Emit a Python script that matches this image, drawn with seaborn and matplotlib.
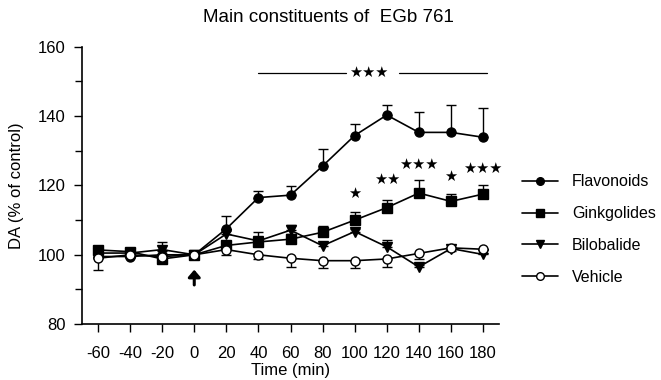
import seaborn as sns
import matplotlib.pyplot as plt
import pandas as pd
import numpy as np
from matplotlib.lines import Line2D

time = [-60, -40, -20, 0, 20, 40, 60, 80, 100, 120, 140, 160, 180]

flavonoids = [99.5, 99.5, 100.0, 100, 107.5, 116.5, 117.2, 125.6, 134.4, 140.3, 135.3, 135.3, 133.9]
ginkgolides = [101.4, 100.9, 98.8, 100, 102.7, 103.7, 104.5, 106.5, 110.0, 113.6, 117.8, 115.4, 117.5]
bilobalide = [100.5, 100.5, 101.5, 100, 106.0, 104.0, 107.1, 102.6, 106.7, 102.3, 96.5, 101.8, 100.1]
vehicle = [99.0, 100.0, 99.5, 100, 101.5, 100.0, 99.0, 98.3, 98.3, 98.8, 100.4, 102.0, 101.6]

# SEM (upper for treated groups, lower for vehicle)
flav_err = [1, 1, 1, 0, 3.6, 2, 2.7, 5, 3.4, 2.9, 6, 8, 8.5]
gink_err = [1, 0.5, 0.5, 0, 1, 2.9, 1.5, 1.8, 2.2, 2.1, 3.9, 2.1, 2.6]
bilo_err = [0.5, 0.5, 2.2, 0, 1, 1, 1.4, 0.8, 0.8, 1.9, 0.5, 0.5, 0.5]
veh_err = [3.5, 1, 2, 0, 1.5, 1.2, 2.5, 2, 2, 2.2, 1.5, 1, 1]

# significance marks
stars_x = [100, 120, 140, 160, 180]
stars_y = [117.7, 121.7, 126.1, 122.6, 125.0]
stars_txt = ['★', '★★', '★★★', '★', '★★★']

sns.set_style('ticks')
plt.rcParams['font.family'] = ['Liberation Sans', 'DejaVu Sans']
plt.rcParams['font.size'] = 12
plt.rcParams['axes.unicode_minus'] = False
plt.rcParams['text.color'] = 'black'
plt.rcParams['axes.labelcolor'] = 'black'
plt.rcParams['xtick.color'] = 'black'
plt.rcParams['ytick.color'] = 'black'
plt.rcParams['axes.edgecolor'] = 'black'

df = pd.DataFrame({
    'Time': time * 4,
    'DA': flavonoids + ginkgolides + bilobalide + vehicle,
    'group': ['Flavonoids'] * 13 + ['Ginkgolides'] * 13 + ['Bilobalide'] * 13 + ['Vehicle'] * 13,
})

fig = plt.figure(figsize=(6.61, 3.8), dpi=100)
ax = fig.add_axes([0.124, 0.147, 0.631, 0.730])

zeros = np.zeros(13)
ax.errorbar(time, flavonoids, yerr=[zeros, flav_err], fmt='none', ecolor='black', elinewidth=1, capsize=3.5, capthick=1)
ax.errorbar(time, ginkgolides, yerr=[zeros, gink_err], fmt='none', ecolor='black', elinewidth=1, capsize=3.5, capthick=1)
ax.errorbar(time, bilobalide, yerr=[zeros, bilo_err], fmt='none', ecolor='black', elinewidth=1, capsize=3.5, capthick=1)
ax.errorbar(time, vehicle, yerr=[veh_err, zeros], fmt='none', ecolor='black', elinewidth=1, capsize=3.5, capthick=1)

sns.lineplot(
    data=df, x='Time', y='DA', hue='group', style='group',
    palette=['black'] * 4,
    markers={'Flavonoids': 'o', 'Ginkgolides': 's', 'Bilobalide': 'v', 'Vehicle': 'o'},
    dashes=False, markersize=6.5, linewidth=1.2, ax=ax, legend=False,
)
data_lines = [l for l in ax.lines if l.get_marker() not in (None, 'None', '')]
for line in data_lines:
    line.set_markeredgecolor('black')
    line.set_markeredgewidth(1)
# vehicle markers are open
data_lines[-1].set_markerfacecolor('white')

ax.set_xlim(-70, 190)
ax.set_ylim(80, 160)
ax.set_xticks(time)
ax.set_yticks([80, 100, 120, 140, 160])
ax.set_yticks(np.arange(80, 161, 10), minor=True)
ax.tick_params(axis='both', labelsize=12, width=1, length=6, pad=6)
ax.tick_params(axis='x', pad=10)
ax.tick_params(axis='y', which='minor', length=5, width=1)
sns.despine(ax=ax)
ax.spines['left'].set_linewidth(1.2)
ax.spines['bottom'].set_linewidth(1.2)
ax.set_xlabel('Time (min)', fontsize=12, labelpad=1)
ax.set_ylabel('DA (% of control)', fontsize=12, labelpad=10)

# overall significance bar for flavonoids
ax.plot([40, 94.5], [152.5, 152.5], color='black', lw=0.9)
ax.plot([127.7, 182.5], [152.5, 152.5], color='black', lw=0.9)
ax.text(109, 152.5, '★★★', ha='center', va='center', fontsize=10.5, family=['DejaVu Sans'])
for x, y, t in zip(stars_x, stars_y, stars_txt):
    ax.text(x, y, t, ha='center', va='center', fontsize=10.5, family=['DejaVu Sans'])

# injection arrow
ax.annotate('', xy=(0, 96.5), xytext=(0, 90.5),
            arrowprops=dict(arrowstyle='-|>,head_width=0.3,head_length=0.35', color='black', lw=2.2))

fig.text(328 / 661, 1 - 18 / 380, 'Main constituents of  EGb 761', ha='center', va='center', fontsize=13.5)

handles = [
    Line2D([], [], color='black', marker='o', markersize=5.5, lw=1.2),
    Line2D([], [], color='black', marker='s', markersize=5.5, lw=1.2),
    Line2D([], [], color='black', marker='v', markersize=5.5, lw=1.2),
    Line2D([], [], color='black', marker='o', markersize=5.5, lw=1.2, markerfacecolor='white'),
]
fig.legend(handles, ['Flavonoids', 'Ginkgolides', 'Bilobalide', 'Vehicle'],
           loc='upper left', bbox_to_anchor=(516 / 661, 1 - 168 / 380), frameon=False,
           fontsize=11.5, handlelength=2.2, labelspacing=1.05, handletextpad=0.9, borderaxespad=0)

fig.savefig('out.png', dpi=100)
